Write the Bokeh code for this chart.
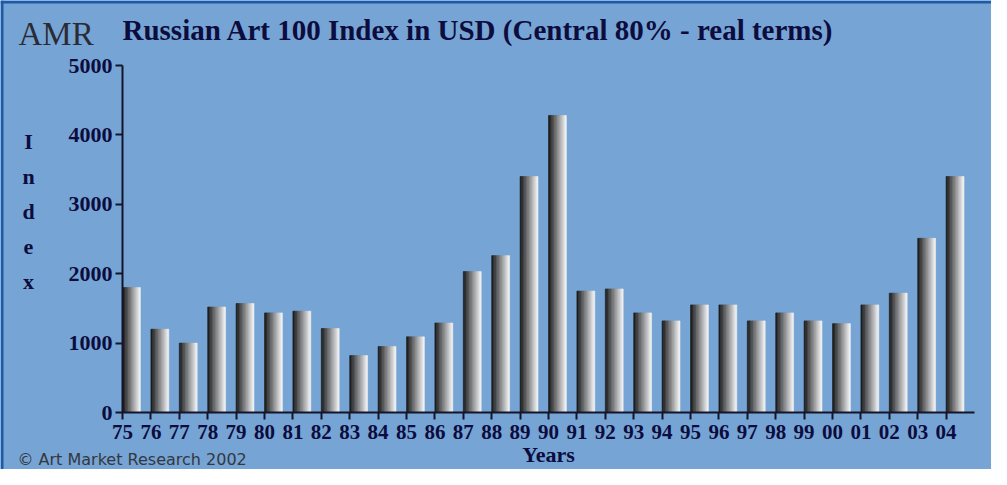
from bokeh.plotting import figure
from bokeh.models import Range1d, FixedTicker, Label, ColumnDataSource, Span
from bokeh.embed import file_html
from bokeh.resources import INLINE

# ---------------- data ----------------
years = ["75", "76", "77", "78", "79", "80", "81", "82", "83", "84",
         "85", "86", "87", "88", "89", "90", "91", "92", "93", "94",
         "95", "96", "97", "98", "99", "00", "01", "02", "03", "04"]
index_values = [1800, 1200, 1000, 1520, 1570, 1435, 1460, 1210, 820, 950,
                1090, 1290, 2030, 2260, 3400, 4280, 1750, 1780, 1435, 1320,
                1550, 1550, 1320, 1435, 1320, 1280, 1550, 1720, 2510, 3400]
y_ticks = [0, 1000, 2000, 3000, 4000, 5000]
title_text = "Russian Art 100 Index in USD (Central 80% - real terms)"
y_title = "Index"
x_title = "Years"
credit = "\u00a9 Art Market Research 2002"
logo = "AMR"

# ---------------- style / layout ----------------
BG = "#76a4d4"
NAVY = "#0c0c3e"
SERIF = "Liberation Serif"
W, H = 991, 469                 # canvas size
AX_L, AX_R = 122, 974           # pixel extent of the category axis
AX_T, AX_B = 65, 412            # pixel extent of the value axis
N_SLICES = 12
BAR_W = 0.63

n_cat = len(years)
y_max = y_ticks[-1]
ux = n_cat / (AX_R - AX_L)      # data units per pixel
uy = y_max / (AX_B - AX_T)

def X(px):
    return (px - AX_L) * ux

def Y(py):
    return (AX_B - py) * uy

p = figure(width=W, height=H,
           x_range=Range1d(X(0), X(W)), y_range=Range1d(Y(H), Y(0)),
           min_border=0, output_backend="svg", toolbar_location=None)
p.background_fill_color = BG
p.border_fill_color = BG
p.outline_line_color = None
p.xgrid.visible = False
p.ygrid.visible = False

# gradient bars built from slices
xs, tops, cols = [], [], []
for i, v in enumerate(index_values):
    for k in range(N_SLICES):
        t = k / (N_SLICES - 1)
        g = int(28 + t * (240 - 28))
        xs.append(i + (k + 0.5) * BAR_W / N_SLICES)
        tops.append(v)
        cols.append("#%02x%02x%02x" % (g, g, g))
src = ColumnDataSource(dict(x=xs, top=tops, color=cols))
p.vbar(x="x", top="top", bottom=0, width=BAR_W / N_SLICES, source=src,
       fill_color="color", line_color="color", line_width=0.6)

# axes, pinned at the origin
for ax in (p.xaxis[0], p.yaxis[0]):
    ax.fixed_location = 0
    ax.axis_line_color = "#15152a"
    ax.axis_line_width = 2
    ax.major_tick_line_color = "#15152a"
    ax.major_tick_line_width = 2
    ax.major_tick_in = 0
    ax.major_tick_out = 7
    ax.minor_tick_line_color = None
    ax.major_label_text_font = SERIF
    ax.major_label_text_font_style = "bold"
    ax.major_label_text_color = NAVY

p.xaxis.bounds = (0, n_cat)
p.xaxis.ticker = FixedTicker(ticks=list(range(n_cat)))
p.xaxis.major_label_overrides = {i: y for i, y in enumerate(years)}
p.xaxis.major_label_text_font_size = "21px"
p.xaxis.major_label_standoff = 5

p.yaxis.bounds = (0, y_max)
p.yaxis.ticker = FixedTicker(ticks=y_ticks)
p.yaxis.major_label_text_font_size = "22px"
p.yaxis.major_label_standoff = 3

# frame border (top and left edges)
p.add_layout(Span(location=Y(1.5), dimension="width", line_color="#1d5aa8", line_width=3))
p.add_layout(Span(location=X(1.5), dimension="height", line_color="#1d5aa8", line_width=3))

def add_text(px, py, text, **kw):
    p.add_layout(Label(x=X(px), y=Y(py), text=text, text_baseline="top", **kw))

add_text(122, 13, title_text, text_font=SERIF, text_font_style="bold",
         text_font_size="29px", text_color=NAVY, text_align="left")
add_text(18, 15, logo, text_font=SERIF, text_font_size="33px",
         text_color="#2b2b36", text_align="left")
add_text(28, 128, "\n".join(y_title), text_font=SERIF, text_font_style="bold",
         text_font_size="22px", text_color=NAVY, text_align="center",
         text_line_height=1.4)
add_text((AX_L + AX_R) / 2, 441, x_title, text_font=SERIF, text_font_style="bold",
         text_font_size="22px", text_color=NAVY, text_align="center")
add_text(17, 449, credit, text_font="DejaVu Sans", text_font_size="16px",
         text_color="#333840", text_align="left")

open("out.html", "w").write(file_html(p, INLINE))
